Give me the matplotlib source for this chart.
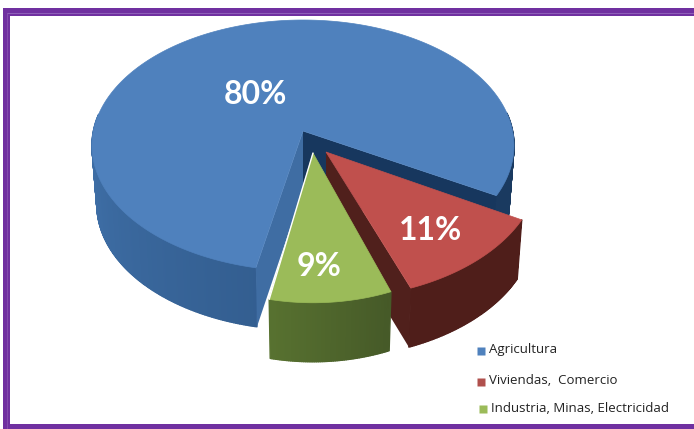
import numpy as np
import matplotlib
matplotlib.use("Agg")
import matplotlib.pyplot as plt
from matplotlib.collections import PolyCollection
from matplotlib.colors import to_rgb
from matplotlib.patches import Polygon, Rectangle

categories = ["Agricultura", "Viviendas,  Comercio", "Industria, Minas, Electricidad"]
shares = [80, 11, 9]
labels = ["80%", "11%", "9%"]

top_colors = ["#4f81bd", "#c0504d", "#9bbb59"]
cut_colors = ["#17375e", "#50201c", "#4f6228"]
legend_colors = ["#4f81bd", "#b0504d", "#9bbb59"]

# pie projection, in pixels
RX = 209.6
RY = 123.8
PERSP = 0.1155
DEPTH = 59
BASE_INSET = 0.977
START = -29.5
apexes = [(303, 131), (326, 152), (313, 153)]
slice_scale = [(1.0, 1.0), (1.012, 1.05), (0.93, 1.07)]
label_pos = [(255, 94), (431, 230), (319, 266)]


def project(idx, theta):
    t = np.radians(theta)
    u, v = np.cos(t), np.sin(t)
    w = 1 + PERSP * v
    sx, sy = slice_scale[idx]
    return apexes[idx][0] + sx * RX * u / w, apexes[idx][1] - sy * RY * v / w


def mix(c0, c1, f):
    return tuple(np.array(to_rgb(c0)) * (1 - f) + np.array(to_rgb(c1)) * f)


def wall_color(idx, theta):
    if idx == 0:
        # lit on the left, navy where the wall turns away on the right
        th = theta % 360
        if th > 300 or th < 90:
            return to_rgb("#1a3a60")
        return mix("#4172ab", "#335e90", np.clip((th - 175) / 85, 0, 1))
    if idx == 1:
        return to_rgb("#4f1e1a")
    return mix("#587230", "#465a28", np.clip((theta - 258) / 32, 0, 1))


def draw_slice(ax, idx, a0, a1):
    apex = apexes[idx]
    thetas = np.linspace(a0, a1, int(abs(a1 - a0) * 2) + 2)
    xs, ys = project(idx, thetas)
    bx = apex[0] + (xs - apex[0]) * BASE_INSET
    by = ys + DEPTH

    quads = []
    cols = []
    for i in range(len(thetas) - 1):
        # the back of the wall sits behind the top face
        if 8 < thetas[i] < 172:
            continue
        quads.append([(xs[i], ys[i]), (xs[i + 1], ys[i + 1]),
                      (bx[i + 1], by[i + 1]), (bx[i], by[i])])
        cols.append(wall_color(idx, thetas[i]))
    ax.add_collection(PolyCollection(quads, facecolors=cols, edgecolors=cols, linewidths=1.0))

    # cut faces from the apex down to the base
    low = (apex[0], apex[1] + DEPTH)
    if idx == 0:
        ax.add_patch(Polygon([apex, (xs[0], ys[0]), (bx[0], by[0]), low], fc=cut_colors[0], ec="none"))
        ax.add_patch(Polygon([apex, (xs[-1], ys[-1]), (bx[-1], by[-1]), low], fc="#3f6da3", ec="none"))
    elif idx == 1:
        ax.add_patch(Polygon([apex, (xs[0], ys[0]), (bx[0], by[0]), low], fc=cut_colors[1], ec="none"))

    top = np.column_stack([np.r_[apex[0], xs], np.r_[apex[1], ys]])
    ax.add_patch(Polygon(top, fc=top_colors[idx], ec=top_colors[idx], lw=0.5))
    if idx == 2:
        ax.plot([apex[0], xs[0]], [apex[1], ys[0]], color="white", lw=1.0, solid_capstyle="round")


fig = plt.figure(figsize=(6.94, 4.29), dpi=100)
ax = fig.add_axes([0, 0, 1, 1])
ax.set_xlim(0, 694)
ax.set_ylim(429, 0)
ax.axis("off")

# purple frame, open on the right
ax.add_patch(Rectangle((3, 8), 691, 8, fc="#7030a0", ec="none"))
ax.add_patch(Rectangle((3, 8), 7, 421, fc="#7030a0", ec="none"))
ax.add_patch(Rectangle((3, 424), 691, 5, fc="#7030a0", ec="none"))
ax.plot([7, 694], [12.5, 12.5], color="#9468bd", lw=0.6)
ax.plot([7, 7], [12.5, 429], color="#8750b0", lw=0.6)

sweeps = np.array(shares) / sum(shares) * 360
blue_end = START + sweeps[0]
green_end = blue_end + sweeps[2]
red_end = green_end + sweeps[1]
# blue first, then red, then green in front
draw_slice(ax, 0, START, blue_end)
draw_slice(ax, 1, green_end, red_end)
draw_slice(ax, 2, blue_end, green_end)

for txt, (x, y) in zip(labels, label_pos):
    ax.text(x, y, txt, color="white", fontsize=23, fontweight="bold",
            family="Lato", ha="center", va="center")

legend_y = [350, 381, 408]
legend_x = [489, 489, 491]
marker_x = [481, 481, 483]
for name, color, x, mx, y in zip(categories, legend_colors, legend_x, marker_x, legend_y):
    ax.plot(mx, y + 1, marker="s", ms=5.5, color=color, mec="none")
    ax.text(x, y, name, fontsize=9.5, family="Open Sans", color="#222222", va="center", ha="left")

fig.savefig("out.png", dpi=100)
